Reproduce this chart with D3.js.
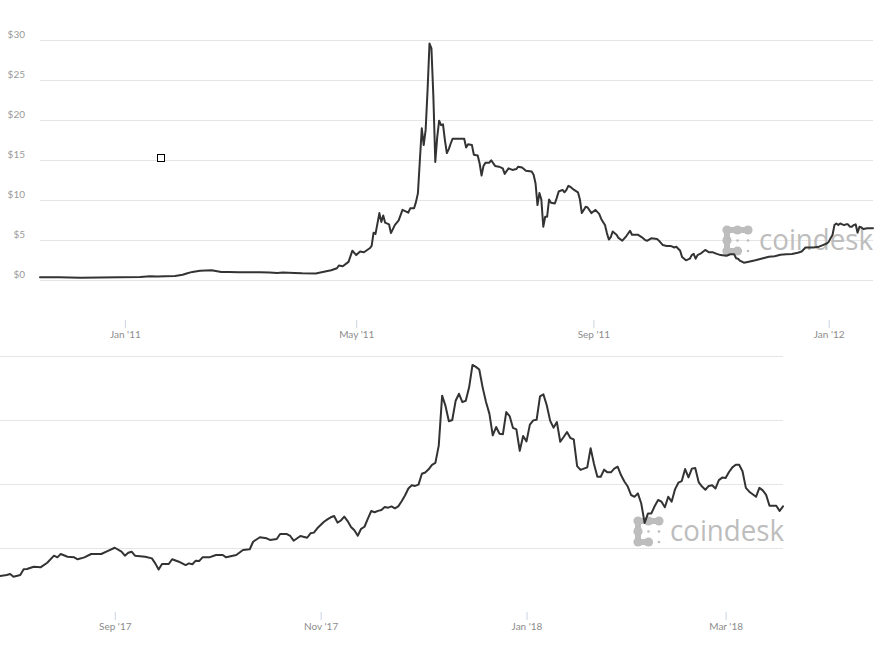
<!DOCTYPE html>
<html>
<head>
<meta charset="utf-8">
<script src="https://cdn.jsdelivr.net/npm/d3@7"></script>
<style>
  html, body { margin: 0; padding: 0; background: #fff; }
  svg { display: block; }
</style>
</head>
<body>
<svg id="chart" width="892" height="654"></svg>
<script>
// ---------- DATA ----------
const topDates = ["2010-11-18","2010-11-28","2010-12-09","2010-12-19","2010-12-29","2011-01-09","2011-01-14","2011-01-18","2011-01-22","2011-01-27","2011-01-31","2011-02-02","2011-02-05","2011-02-09","2011-02-15","2011-02-20","2011-02-24","2011-03-01","2011-03-05","2011-03-12","2011-03-17","2011-03-21","2011-03-24","2011-03-30","2011-04-03","2011-04-10","2011-04-13","2011-04-18","2011-04-21","2011-04-22","2011-04-24","2011-04-27","2011-04-29","2011-05-01","2011-05-03","2011-05-05","2011-05-08","2011-05-09","2011-05-10","2011-05-11","2011-05-13","2011-05-14","2011-05-15","2011-05-16","2011-05-18","2011-05-19","2011-05-21","2011-05-23","2011-05-25","2011-05-28","2011-05-29","2011-05-31","2011-06-01","2011-06-02","2011-06-03","2011-06-04","2011-06-05","2011-06-06","2011-06-07","2011-06-08","2011-06-09","2011-06-10","2011-06-11","2011-06-12","2011-06-13","2011-06-14","2011-06-15","2011-06-16","2011-06-17","2011-06-18","2011-06-19","2011-06-20","2011-06-26","2011-06-27","2011-06-28","2011-06-30","2011-07-01","2011-07-03","2011-07-04","2011-07-05","2011-07-06","2011-07-07","2011-07-09","2011-07-10","2011-07-12","2011-07-14","2011-07-16","2011-07-17","2011-07-19","2011-07-21","2011-07-23","2011-07-24","2011-07-26","2011-07-28","2011-07-31","2011-08-01","2011-08-02","2011-08-03","2011-08-04","2011-08-05","2011-08-06","2011-08-07","2011-08-08","2011-08-09","2011-08-10","2011-08-12","2011-08-13","2011-08-14","2011-08-16","2011-08-17","2011-08-18","2011-08-19","2011-08-20","2011-08-22","2011-08-24","2011-08-25","2011-08-26","2011-08-27","2011-08-28","2011-08-29","2011-08-31","2011-09-01","2011-09-02","2011-09-04","2011-09-05","2011-09-06","2011-09-07","2011-09-08","2011-09-09","2011-09-10","2011-09-11","2011-09-13","2011-09-14","2011-09-16","2011-09-18","2011-09-20","2011-09-21","2011-09-24","2011-09-26","2011-09-28","2011-09-29","2011-10-01","2011-10-04","2011-10-05","2011-10-07","2011-10-09","2011-10-11","2011-10-13","2011-10-14","2011-10-16","2011-10-17","2011-10-19","2011-10-21","2011-10-22","2011-10-23","2011-10-24","2011-10-25","2011-10-27","2011-10-29","2011-10-31","2011-11-02","2011-11-04","2011-11-06","2011-11-09","2011-11-11","2011-11-13","2011-11-14","2011-11-15","2011-11-16","2011-11-18","2011-11-20","2011-11-24","2011-11-28","2011-12-01","2011-12-04","2011-12-07","2011-12-10","2011-12-13","2011-12-16","2011-12-18","2011-12-20","2011-12-24","2011-12-27","2011-12-29","2011-12-31","2012-01-01","2012-01-02","2012-01-03","2012-01-04","2012-01-05","2012-01-06","2012-01-07","2012-01-08","2012-01-09","2012-01-10","2012-01-11","2012-01-12","2012-01-13","2012-01-14","2012-01-15","2012-01-16","2012-01-17","2012-01-18","2012-01-19","2012-01-21","2012-01-24"];
const topPrices = [0.28,0.27,0.23,0.24,0.27,0.32,0.40,0.36,0.42,0.44,0.60,0.75,0.95,1.10,1.15,0.93,0.95,0.92,0.92,0.92,0.88,0.80,0.86,0.82,0.78,0.76,0.90,1.15,1.40,1.75,1.65,2.20,3.60,3.05,3.50,3.40,3.90,4.20,5.85,5.70,8.30,7.20,8.00,7.10,6.90,5.80,6.80,7.40,8.70,8.35,8.90,8.90,9.70,10.80,14.90,18.90,16.80,18.70,23.70,29.50,28.90,22.90,14.70,17.80,19.85,19.30,19.40,17.40,15.80,16.30,17.00,17.60,17.60,16.50,16.90,16.80,15.60,15.50,14.50,13.00,14.20,14.60,14.60,14.90,14.20,14.10,13.90,13.20,13.90,13.70,13.80,14.10,14.00,13.60,13.50,13.10,12.00,9.30,10.80,10.00,6.60,7.85,7.85,10.00,9.60,9.50,10.20,11.00,11.20,10.90,11.20,11.70,11.60,11.20,10.90,10.00,8.30,8.70,9.10,9.00,8.30,8.50,8.70,8.20,7.60,7.20,6.80,5.80,5.00,5.30,6.00,5.60,5.20,4.85,5.40,6.10,5.60,5.60,5.30,4.90,4.85,5.15,5.05,4.85,4.30,4.20,4.20,4.00,4.10,3.60,2.80,2.40,2.60,3.05,3.20,2.60,3.05,3.30,3.70,3.40,3.40,3.20,3.05,2.97,3.15,3.15,2.65,2.60,2.35,2.10,2.20,2.40,2.65,2.85,2.90,3.10,3.15,3.20,3.35,3.50,4.00,4.00,4.10,4.30,4.50,4.70,5.15,5.56,6.80,7.00,6.80,7.00,6.90,6.80,6.90,6.90,6.60,6.60,6.80,6.90,5.85,6.60,6.50,6.30,6.40,6.40];

const bottomDates = ["2017-07-29","2017-07-31","2017-08-01","2017-08-02","2017-08-04","2017-08-05","2017-08-06","2017-08-08","2017-08-10","2017-08-12","2017-08-14","2017-08-15","2017-08-16","2017-08-18","2017-08-20","2017-08-21","2017-08-23","2017-08-25","2017-08-28","2017-08-30","2017-09-01","2017-09-03","2017-09-04","2017-09-05","2017-09-06","2017-09-07","2017-09-10","2017-09-12","2017-09-13","2017-09-14","2017-09-15","2017-09-17","2017-09-18","2017-09-20","2017-09-22","2017-09-23","2017-09-24","2017-09-25","2017-09-26","2017-09-27","2017-09-29","2017-10-01","2017-10-03","2017-10-04","2017-10-07","2017-10-09","2017-10-11","2017-10-12","2017-10-14","2017-10-16","2017-10-17","2017-10-19","2017-10-20","2017-10-22","2017-10-23","2017-10-24","2017-10-26","2017-10-28","2017-10-29","2017-10-30","2017-10-31","2017-11-02","2017-11-03","2017-11-04","2017-11-05","2017-11-06","2017-11-07","2017-11-08","2017-11-09","2017-11-10","2017-11-11","2017-11-12","2017-11-13","2017-11-14","2017-11-15","2017-11-16","2017-11-17","2017-11-18","2017-11-19","2017-11-20","2017-11-21","2017-11-22","2017-11-23","2017-11-24","2017-11-25","2017-11-26","2017-11-27","2017-11-28","2017-11-29","2017-11-30","2017-12-01","2017-12-02","2017-12-03","2017-12-04","2017-12-05","2017-12-06","2017-12-07","2017-12-08","2017-12-09","2017-12-10","2017-12-11","2017-12-12","2017-12-13","2017-12-14","2017-12-15","2017-12-16","2017-12-17","2017-12-18","2017-12-19","2017-12-20","2017-12-21","2017-12-22","2017-12-23","2017-12-24","2017-12-25","2017-12-26","2017-12-27","2017-12-28","2017-12-29","2017-12-30","2017-12-31","2018-01-01","2018-01-02","2018-01-03","2018-01-04","2018-01-05","2018-01-06","2018-01-07","2018-01-08","2018-01-09","2018-01-10","2018-01-11","2018-01-12","2018-01-13","2018-01-14","2018-01-15","2018-01-16","2018-01-17","2018-01-18","2018-01-19","2018-01-20","2018-01-21","2018-01-22","2018-01-23","2018-01-24","2018-01-25","2018-01-26","2018-01-27","2018-01-28","2018-01-29","2018-01-30","2018-01-31","2018-02-01","2018-02-02","2018-02-03","2018-02-04","2018-02-05","2018-02-06","2018-02-07","2018-02-08","2018-02-09","2018-02-10","2018-02-11","2018-02-12","2018-02-13","2018-02-14","2018-02-15","2018-02-16","2018-02-17","2018-02-18","2018-02-19","2018-02-20","2018-02-21","2018-02-22","2018-02-23","2018-02-24","2018-02-25","2018-02-26","2018-02-27","2018-02-28","2018-03-01","2018-03-02","2018-03-03","2018-03-04","2018-03-05","2018-03-06","2018-03-07","2018-03-08","2018-03-09","2018-03-10","2018-03-11","2018-03-12","2018-03-13","2018-03-14","2018-03-15","2018-03-16","2018-03-17","2018-03-18"];
const bottomPrices = [2810,2890,2970,2760,2890,3340,3360,3540,3490,3850,4400,4270,4530,4320,4270,4120,4270,4530,4530,4770,5020,4710,4400,4630,4710,4400,4320,4190,3800,3320,3750,3750,4120,3930,3670,3800,3730,4010,3980,4270,4270,4450,4450,4270,4450,4840,4900,5490,5840,5760,5630,5700,6090,6090,5940,5570,5940,5800,6150,6200,6540,7050,7240,7400,7500,6980,7150,7450,7100,6640,6380,5960,6500,6660,7300,7890,7790,7900,7970,8200,8150,8250,8100,8250,8650,9100,9650,9900,9850,9950,10800,10900,11150,11500,11650,13000,16900,16100,14900,15000,16500,17050,16400,16500,17550,19300,19150,18950,17550,16400,15500,13800,14450,13930,13880,15620,15310,14380,14270,12600,13750,13330,14640,14970,15020,16850,17000,16150,14950,14400,14840,13300,13670,14060,13590,13490,11400,11100,11200,11300,12800,11560,10570,10570,11120,10910,10910,11200,11350,10700,10200,9800,9140,9000,9270,8480,6960,7700,7700,8280,8750,8620,8180,9000,8620,9580,10100,10230,11170,10520,11200,11250,10150,9800,9550,9850,9900,9650,10300,10500,10470,10940,11300,11500,11500,11000,9700,9400,9200,9000,9700,9500,9150,8300,8300,8300,7900,8250];

const topYTicks = [0, 5, 10, 15, 20, 25, 30];
const topYLabels = ["$0", "$5", "$10", "$15", "$20", "$25", "$30"];
const topXTicks = ["2011-01-01", "2011-05-01", "2011-09-01", "2012-01-01"];
const topXLabels = ["Jan '11", "May '11", "Sep '11", "Jan '12"];
const bottomYTicks = [5000, 10000, 15000, 20000];
const bottomXTicks = ["2017-09-01", "2017-11-01", "2018-01-01", "2018-03-01"];
const bottomXLabels = ["Sep '17", "Nov '17", "Jan '18", "Mar '18"];
const topXDomain = ["2010-11-18", "2012-01-24"];
const bottomXDomain = ["2017-07-29", "2018-03-18"];
const watermarkText = "coindesk";

// ---------- DRAW ----------
const parse = d3.utcParse("%Y-%m-%d");
const svg = d3.select("#chart");
const FONT = "Lato, 'Open Sans', sans-serif";

function drawLogo(g) {
  const col = "#bdbdbd";
  // connectors
  g.append("rect").attr("x", 0).attr("y", -3).attr("width", 21).attr("height", 6).attr("fill", col);
  g.append("rect").attr("x", -3).attr("y", 0).attr("width", 6).attr("height", 21).attr("fill", col);
  g.append("rect").attr("x", 0).attr("y", 18).attr("width", 10.5).attr("height", 6).attr("fill", col);
  const big = [[0,0],[10.5,0],[21,0],[0,10.5],[0,21],[10.5,21]];
  const small = [[10.5,10.5],[21,10.5],[21,21]];
  big.forEach(p => g.append("circle").attr("cx", p[0]).attr("cy", p[1]).attr("r", 4.6).attr("fill", col));
  small.forEach(p => g.append("circle").attr("cx", p[0]).attr("cy", p[1]).attr("r", 1.3).attr("fill", col));
  g.append("text").attr("x", 32).attr("y", 19.5)
    .attr("font-family", "'Open Sans', Lato, sans-serif").attr("font-size", 29)
    .attr("fill", col).attr("textLength", 114).attr("lengthAdjust", "spacingAndGlyphs")
    .text(watermarkText);
}

function panel(opts) {
  const x = d3.scaleUtc().domain(opts.xDomain.map(parse)).range(opts.xRange);
  const y = d3.scaleLinear().domain(opts.yDomain).range(opts.yRange);
  const g = svg.append("g");

  // gridlines
  g.append("g").selectAll("line").data(opts.yTicks).join("line")
    .attr("x1", opts.xRange[0]).attr("x2", opts.xRange[1])
    .attr("y1", d => Math.round(y(d)) + 0.5).attr("y2", d => Math.round(y(d)) + 0.5)
    .attr("stroke", "#e5e5e5").attr("stroke-width", 1);

  // y labels
  if (opts.yLabels) {
    g.append("g").selectAll("text").data(opts.yTicks).join("text")
      .attr("x", 25).attr("y", d => y(d) - 2)
      .attr("text-anchor", "end")
      .attr("font-family", FONT).attr("font-size", 10).attr("fill", "#9a9a9a")
      .text((d, i) => opts.yLabels[i]);
  }

  // x axis
  const ax = d3.axisBottom(x)
    .tickValues(opts.xTicks.map(parse))
    .tickFormat((d, i) => opts.xLabels[i])
    .tickSize(8).tickPadding(3);
  const axg = g.append("g").attr("transform", `translate(0,${opts.axisY})`).call(ax);
  axg.select(".domain").remove();
  axg.selectAll(".tick line").attr("stroke", "#c9d3df");
  axg.selectAll(".tick text").attr("font-family", FONT).attr("font-size", 10).attr("fill", "#8c8c8c");

  // watermark
  drawLogo(g.append("g").attr("transform", `translate(${opts.logo[0]},${opts.logo[1]})`));

  // line
  const data = opts.dates.map((d, i) => ({ date: parse(d), value: opts.values[i] }));
  const line = d3.line().x(d => x(d.date)).y(d => y(d.value));
  g.append("path").datum(data).attr("d", line)
    .attr("fill", "none").attr("stroke", "#333").attr("stroke-width", 2)
    .attr("stroke-linejoin", "round").attr("stroke-linecap", "round");
  return { x, y };
}

panel({
  dates: topDates, values: topPrices,
  xDomain: topXDomain, xRange: [40, 873],
  yDomain: [0, 30], yRange: [279.5, 39.5],
  yTicks: topYTicks, yLabels: topYLabels,
  xTicks: topXTicks, xLabels: topXLabels, axisY: 320,
  logo: [727, 230]
});

panel({
  dates: bottomDates, values: bottomPrices,
  xDomain: bottomXDomain, xRange: [0, 783],
  yDomain: [0, 20000], yRange: [612, 356],
  yTicks: bottomYTicks, yLabels: null,
  xTicks: bottomXTicks, xLabels: bottomXLabels, axisY: 612,
  logo: [638, 521]
});

// small square marker
svg.append("rect").attr("x", 157.5).attr("y", 154.5).attr("width", 7).attr("height", 7)
  .attr("fill", "#fff").attr("stroke", "#000").attr("stroke-width", 1);
</script>
</body>
</html>
